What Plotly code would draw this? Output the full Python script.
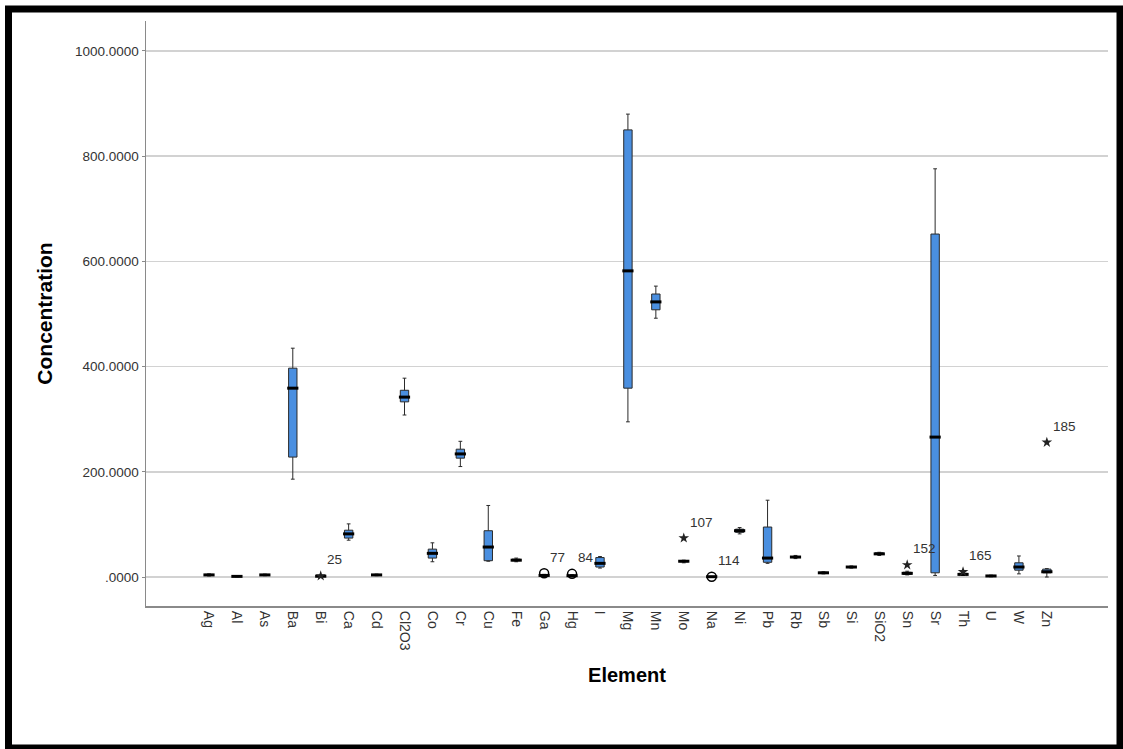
import plotly.graph_objects as go

# ---------------- data ----------------
elements = ["Ag", "Al", "As", "Ba", "Bi", "Ca", "Cd", "Cl2O3", "Co", "Cr", "Cu", "Fe",
            "Ga", "Hg", "I", "Mg", "Mn", "Mo", "Na", "Ni", "Pb", "Rb", "Sb", "Si",
            "SiO2", "Sn", "Sr", "Th", "U", "W", "Zn"]
lower_whisker = [2, 0.3, 2.5, 186, 0, 70, 2.5, 308, 29, 210, 30, 29,
                 1, 0.5, 17, 295, 492, 27, 0.2, 82, 26, 35, 6, 17,
                 41, 4, 3, 3, 0.5, 6, 0]
q1_values = [3, 0.8, 3.2, 228, 0.8, 74, 3.2, 333, 36, 226, 31, 31,
             2, 1.5, 19, 359, 508, 29, 0.4, 85, 28, 37, 7, 18,
             43, 5, 8, 4, 1, 13, 8]
median_values = [4, 1.2, 4, 359, 1.5, 82, 4, 342, 45, 234, 57, 32,
                 3, 2.5, 26, 582, 523, 30, 0.6, 88, 36, 38, 8, 19,
                 44, 7, 266, 5, 2, 19, 10]
q3_values = [5, 1.8, 4.8, 397, 2.2, 89, 4.8, 355, 53, 243, 88, 34,
             4, 3.5, 37, 850, 538, 31, 0.8, 91, 95, 39, 9, 20,
             46, 9, 652, 7, 3, 27, 15]
upper_whisker = [6, 2.5, 5.5, 435, 3.5, 101, 5.5, 378, 65, 258, 136, 36,
                 5, 4.5, 39, 880, 553, 32, 1.0, 94, 146, 41, 10, 21,
                 47, 11, 776, 8, 3.5, 40, 16]

circle_outlier_elements = ["Ga", "Hg", "Na"]
circle_outlier_values = [7, 6, 0.5]
circle_outlier_ids = ["77", "84", "114"]

star_outlier_elements = ["Bi", "Mo", "Sn", "Th", "Zn"]
star_outlier_values = [2, 74, 23, 10, 256]
star_outlier_ids = ["25", "107", "152", "165", "185"]

y_tick_values = [0, 200, 400, 600, 800, 1000]
y_tick_labels = [".0000", "200.0000", "400.0000", "600.0000", "800.0000", "1000.0000"]

# ---------------- figure ----------------
FONT = "Arial, Liberation Sans, sans-serif"
BOX_FILL = "#4a8fe0"

fig = go.Figure()

fig.add_trace(go.Box(
    x=elements,
    q1=q1_values, median=median_values, q3=q3_values,
    lowerfence=lower_whisker, upperfence=upper_whisker,
    width=0.3, whiskerwidth=0.45,
    fillcolor=BOX_FILL,
    line=dict(color="#2a2a2a", width=1),
    boxpoints=False,
    showlegend=False,
    hoverinfo="skip",
))

# thick median bars
fig.add_trace(go.Scatter(
    x=elements, y=median_values, mode="markers",
    marker=dict(symbol="line-ew", size=8, line=dict(color="black", width=3)),
    showlegend=False, hoverinfo="skip",
))

fig.add_trace(go.Scatter(
    x=circle_outlier_elements, y=circle_outlier_values, mode="markers",
    marker=dict(symbol="circle-open", size=9, color="black",
                line=dict(color="black", width=1.5)),
    showlegend=False, hoverinfo="skip",
))
fig.add_trace(go.Scatter(
    x=star_outlier_elements, y=star_outlier_values, mode="markers",
    marker=dict(symbol="star", size=8, color="#222222", line=dict(width=0)),
    showlegend=False, hoverinfo="skip",
))

annotations = []
for cat, val, lab in list(zip(circle_outlier_elements, circle_outlier_values, circle_outlier_ids)) + \
        list(zip(star_outlier_elements, star_outlier_values, star_outlier_ids)):
    annotations.append(dict(
        x=cat, y=val, text=lab, showarrow=False,
        xanchor="left", yanchor="middle", xshift=4, yshift=16,
        font=dict(family=FONT, size=13.5, color="#333333"),
    ))

# outer black frame (paper coords relative to plot area)
L, R, T, B = 146, 1108, 21, 606
W, H = 1123, 749
pw, ph = R - L, B - T
def px(x):
    return (x - L) / pw
def py(y):
    return (B - y) / ph

shapes = [dict(type="rect", xref="paper", yref="paper",
               x0=px(8.5), x1=px(1120), y0=py(748), y1=py(9),
               line=dict(color="black", width=7), fillcolor="rgba(0,0,0,0)",
               layer="above")]

fig.update_layout(
    width=W, height=H,
    margin=dict(l=L, r=W - R, t=T, b=H - B, pad=0),
    paper_bgcolor="white", plot_bgcolor="white",
    font=dict(family=FONT, color="#333333"),
    annotations=annotations,
    shapes=shapes,
    showlegend=False,
)

fig.update_xaxes(
    type="category", categoryorder="array", categoryarray=elements,
    range=[-2.256, 32.19],
    showgrid=False, zeroline=False,
    showline=True, linecolor="#8a8a8a", linewidth=2,
    ticks="", tickangle=90,
    tickfont=dict(family=FONT, size=14, color="#333333"),
    title=dict(text="<b>Element</b>", font=dict(family=FONT, size=20, color="black"),
               standoff=18),
)

fig.update_yaxes(
    range=[-55.1, 1057],
    tickvals=y_tick_values, ticktext=y_tick_labels,
    showgrid=True, gridcolor="#d2d2d2", gridwidth=1.5,
    zeroline=False,
    showline=True, linecolor="#8a8a8a", linewidth=1.5,
    ticks="outside", ticklen=3, tickcolor="#8a8a8a",
    tickfont=dict(family=FONT, size=13.5, color="#333333"),
    title=dict(text="<b>Concentration</b>", font=dict(family=FONT, size=21, color="black"),
               standoff=16),
)

fig.write_html(
    "out.html",
    config={"displayModeBar": False, "staticPlot": True},
    post_script="document.body.style.margin='0';document.body.style.overflow='hidden';",
)
